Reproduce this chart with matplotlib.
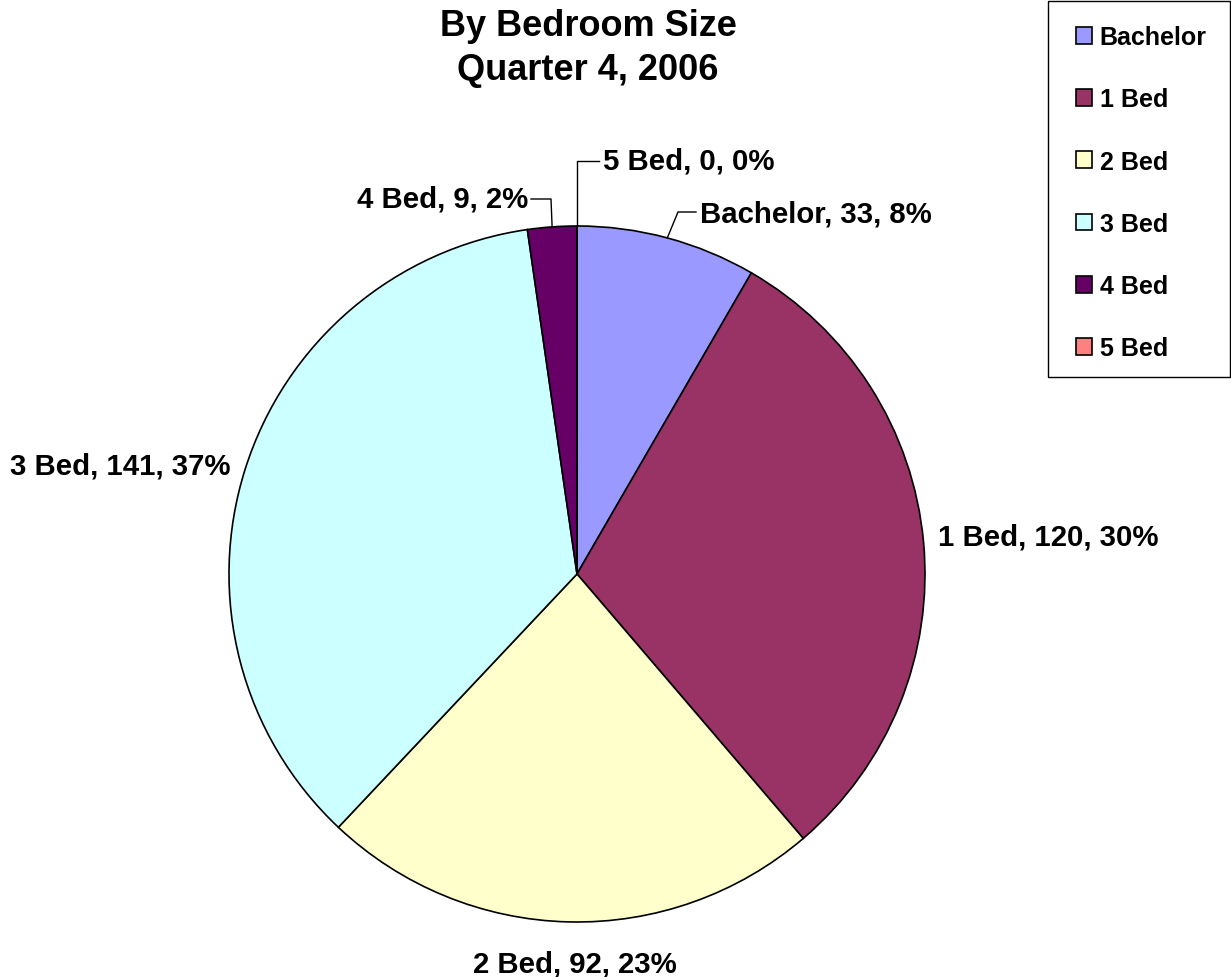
import matplotlib
matplotlib.use("Agg")
import matplotlib.pyplot as plt
from matplotlib.patches import Patch, Rectangle
import numpy as np

plt.rcParams['font.family'] = ['Liberation Sans', 'DejaVu Sans']
plt.rcParams['font.weight'] = 'bold'

# data
categories = ['Bachelor', '1 Bed', '2 Bed', '3 Bed', '4 Bed', '5 Bed']
counts = [33, 120, 92, 141, 9, 0]
pct_labels = ['8%', '30%', '23%', '37%', '2%', '0%']
colors = ['#9999FF', '#993366', '#FFFFCC', '#CCFFFF', '#660066', '#FF8080']

W, H = 1231, 978
fig = plt.figure(figsize=(W / 100, H / 100), dpi=100)

# pie centre (577, 575) px, radius 348 px
cx, cy, r = 577, 575, 348
ax = fig.add_axes([(cx - r) / W, (H - cy - r) / H, 2 * r / W, 2 * r / H])
wedges, _ = ax.pie(counts, colors=colors, startangle=90, counterclock=False,
                   radius=1, wedgeprops=dict(edgecolor='black', linewidth=1.2))
ax.set_xlim(-1, 1)
ax.set_ylim(-1, 1)
ax.set_aspect('equal')
ax.axis('off')

labels = [f'{c}, {v}, {p}' for c, v, p in zip(categories, counts, pct_labels)]

def px(x, y):
    return ((x - cx) / r, (cy - y) / r)

# text anchor positions (pixels), alignment
text_pos = {
    'Bachelor': ((700, 215), 'left'),
    '1 Bed': ((938, 538), 'left'),
    '2 Bed': ((575, 965), 'center'),
    '3 Bed': ((231, 467), 'right'),
    '4 Bed': ((528, 200), 'right'),
    '5 Bed': ((603, 162), 'left'),
}
# leader lines: (elbow, end) in pixels, start taken from the wedge edge
leaders = {
    'Bachelor': ((678, 213), (696, 213)),
    '4 Bed': ((551, 200), (531, 200)),
    '5 Bed': ((577, 162), (599, 162)),
}

for w, cat, lab in zip(wedges, categories, labels):
    (tx, ty), ha = text_pos[cat]
    x, y = px(tx, ty)
    ax.text(x, y, lab, ha=ha, va='center', fontsize=21.2, fontweight='bold')
    if cat in leaders:
        ang = np.deg2rad((w.theta1 + w.theta2) / 2)
        sx, sy = np.cos(ang), np.sin(ang)
        (ex, ey), (fx, fy) = leaders[cat]
        e = px(ex, ey)
        f = px(fx, fy)
        ax.plot([sx, e[0], f[0]], [sy, e[1], f[1]], color='black', lw=1,
                clip_on=False)

fig.text(588 / W, 1 - 27 / H, 'By Bedroom Size', ha='center', va='center',
         fontsize=26, fontweight='bold')
fig.text(588 / W, 1 - 70 / H, 'Quarter 4, 2006', ha='center', va='center',
         fontsize=26, fontweight='bold')

# legend box drawn by hand, entries by fig.legend
fig.patches.append(Rectangle((1048 / W, 1 - 378 / H), 182 / W, 376 / H,
                             transform=fig.transFigure, facecolor='white',
                             edgecolor='black', linewidth=1, zorder=0))
handles = [Patch(facecolor=c, edgecolor='black', linewidth=1.2) for c in colors]
leg = fig.legend(handles, categories, loc='upper left',
                 bbox_to_anchor=(1076 / W, 1 - 26 / H), fontsize=18,
                 frameon=False, labelspacing=1.53, handlelength=0.65,
                 handleheight=0.65, handletextpad=0.3, borderpad=0,
                 borderaxespad=0)
for t in leg.get_texts():
    t.set_fontweight('bold')

fig.savefig('out.png', dpi=100)
